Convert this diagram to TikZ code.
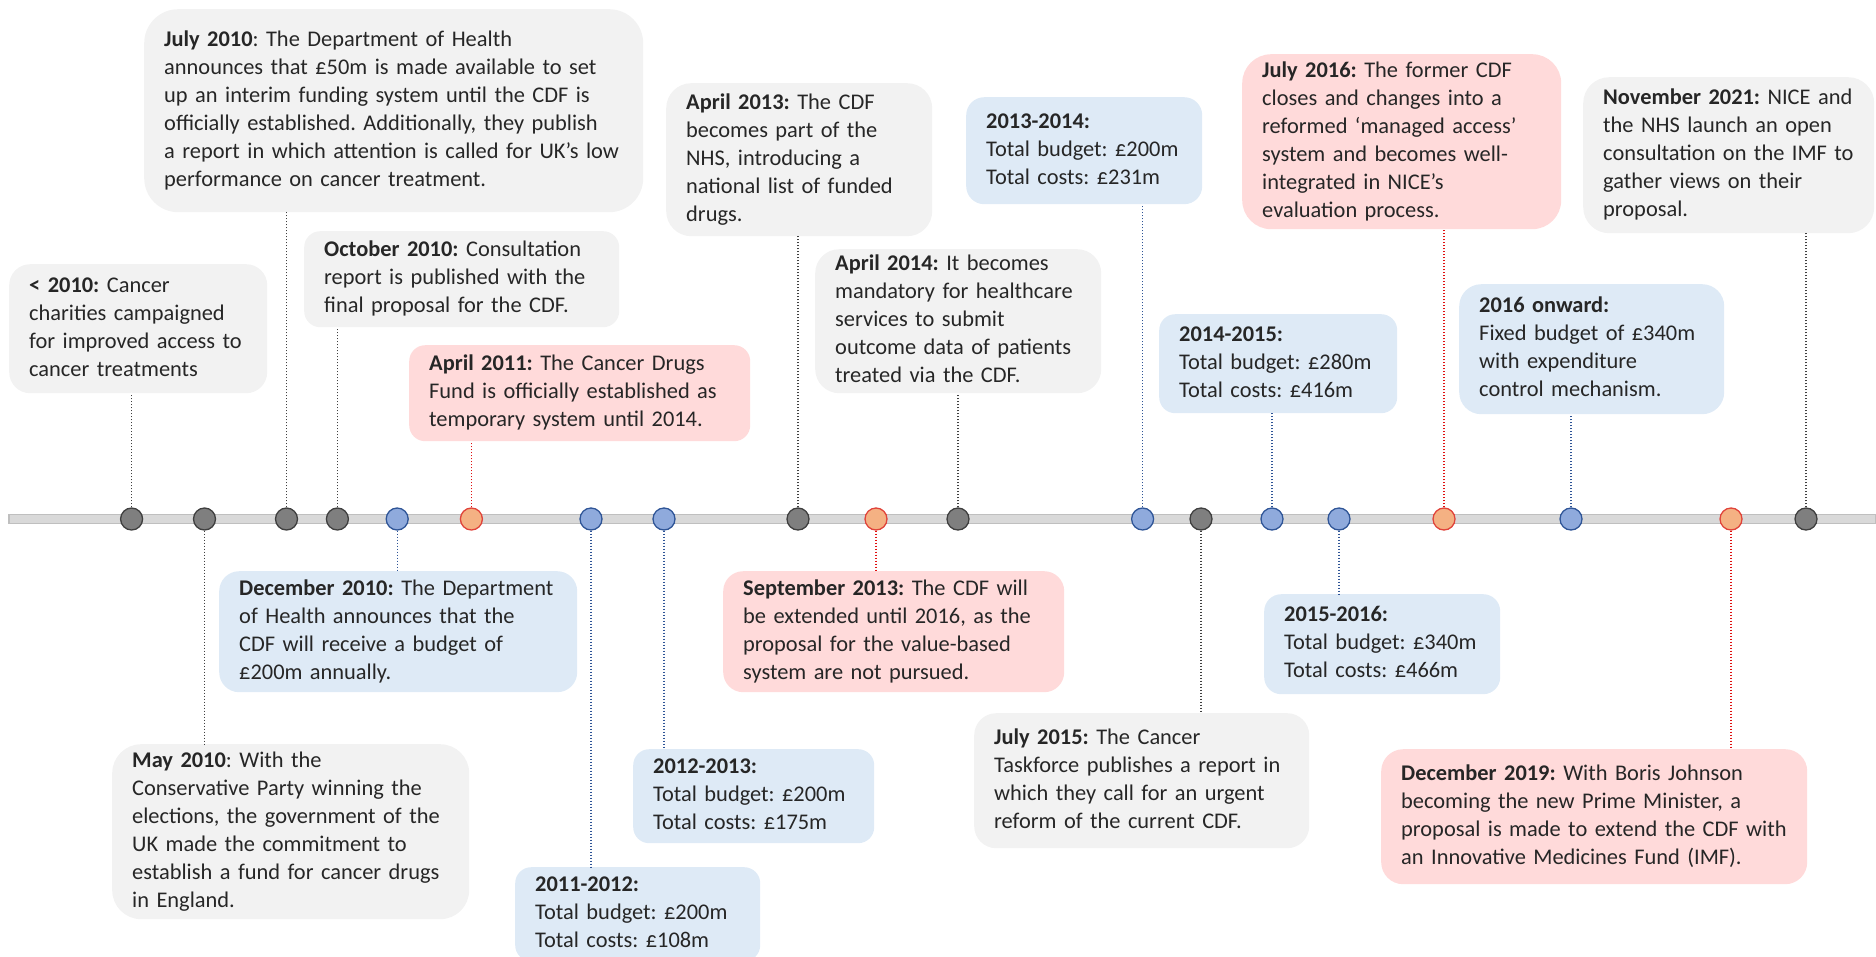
\documentclass[tikz,border=0pt]{standalone}
\usepackage{fontspec}
\setmainfont{Carlito}
\usepackage{xcolor}
\usepackage{tikz}
\frenchspacing

\definecolor{boxgrey}{HTML}{F2F2F2}
\definecolor{boxblue}{HTML}{DEEAF6}
\definecolor{boxred}{HTML}{FFDADA}
\definecolor{ptgrey}{HTML}{7F7F7F}
\definecolor{ptgreyedge}{HTML}{3F3F3F}
\definecolor{ptblue}{HTML}{8FAADC}
\definecolor{ptblueedge}{HTML}{2F5597}
\definecolor{ptred}{HTML}{F4B183}
\definecolor{ptrededge}{HTML}{E0433A}
\definecolor{lkgrey}{HTML}{404040}
\definecolor{lkblue}{HTML}{2F5597}
\definecolor{lkred}{HTML}{E01010}
\definecolor{barfill}{HTML}{D9D9D9}
\definecolor{baredge}{HTML}{BFBFBF}

\begin{document}
\begin{tikzpicture}[x=1pt,y=-1pt,font=\fontsize{22.4}{28}\selectfont,
            text=black!85]
        \tikzstyle{event}=[rectangle,anchor=north west,align=left,inner xsep=10pt,inner ysep=0pt,
            execute at begin node={\leftskip=10pt\strut},execute at end node=\strut]
        \tikzstyle{grey event}=[event,fill=boxgrey]
        \tikzstyle{blue event}=[event,fill=boxblue]
        \tikzstyle{red event}=[event,fill=boxred]
        \tikzstyle{point}=[circle,minimum size=22pt,inner sep=0pt,line width=1.3pt]
        \tikzstyle{grey point}=[point,fill=ptgrey,draw=ptgreyedge]
        \tikzstyle{blue point}=[point,fill=ptblue,draw=ptblueedge]
        \tikzstyle{red point}=[point,fill=ptred,draw=ptrededge]
        \tikzstyle{link}=[line width=1.1pt,dash pattern=on 1.5pt off 1.5pt]
        \tikzstyle{grey link}=[link,draw=lkgrey]
        \tikzstyle{blue link}=[link,draw=lkblue]
        \tikzstyle{red link}=[link,draw=lkred]

        \useasboundingbox (0,0) rectangle (1876,956);

        % time axis
        \draw[fill=barfill,draw=baredge,line width=1.5pt] (9,514.5) rectangle (1876,523.5);

        % points on the axis
        \node[grey point] (pre10p) at (131.6,519) {};
        \node[grey point] (may10p) at (204.5,519) {};
        \node[grey point] (jul10p) at (286.5,519) {};
        \node[grey point] (oct10p) at (337.4,519) {};
        \node[blue point] (dec10p) at (397.2,519) {};
        \node[red point] (apr11p) at (471.4,519) {};
        \node[blue point] (y1112p) at (591,519) {};
        \node[blue point] (y1213p) at (664,519) {};
        \node[grey point] (apr13p) at (798,519) {};
        \node[red point] (sep13p) at (876,519) {};
        \node[grey point] (apr14p) at (958,519) {};
        \node[blue point] (y1314p) at (1142.6,519) {};
        \node[grey point] (jul15p) at (1201,519) {};
        \node[blue point] (y1415p) at (1272,519) {};
        \node[blue point] (y1516p) at (1339,519) {};
        \node[red point] (jul16p) at (1444,519) {};
        \node[blue point] (y16onp) at (1571,519) {};
        \node[red point] (dec19p) at (1731,519) {};
        \node[grey point] (nov21p) at (1806,519) {};

        % events above the axis
        \node[grey event,text width=238pt,minimum height=129pt,rounded corners=21pt] (pre10) at (9,264)
            {\textbf{< 2010:} Cancer\\ charities campaigned\\ for improved access to\\ cancer treatments};
        \node[grey event,text width=479pt,minimum height=203pt,rounded corners=34pt] (jul10) at (144,9)
            {\textbf{July 2010}: The Department of Health\\ announces that £50m is made available to set\\ up an interim funding system until the CDF is\\ officially established. Additionally, they publish\\ a report in which attention is called for UK’s low\\ performance on cancer treatment.};
        \node[grey event,text width=295pt,minimum height=96pt,rounded corners=16pt] (oct10) at (304,231)
            {\textbf{October 2010:} Consultation\\ report is published with the\\ final proposal for the CDF.};
        \node[red event,text width=321pt,minimum height=96pt,rounded corners=16pt] (apr11) at (409,345)
            {\textbf{April 2011:} The Cancer Drugs\\ Fund is officially established as\\ temporary system until 2014.};
        \node[grey event,text width=246pt,minimum height=153pt,rounded corners=25pt] (apr13) at (666,83)
            {\textbf{April 2013:} The CDF\\ becomes part of the\\ NHS, introducing a\\ national list of funded\\ drugs.};
        \node[grey event,text width=266pt,minimum height=144pt,rounded corners=24pt] (apr14) at (815,249)
            {\textbf{April 2014:} It becomes\\ mandatory for healthcare\\ services to submit\\ outcome data of patients\\ treated via the CDF.};
        \node[blue event,text width=216pt,minimum height=107pt,rounded corners=18pt] (y1314) at (966,97)
            {\textbf{2013-2014:}\\ Total budget: £200m\\ Total costs: £231m};
        \node[blue event,text width=218pt,minimum height=99pt,rounded corners=16pt] (y1415) at (1159,314)
            {\textbf{2014-2015:}\\ Total budget: £280m\\ Total costs: £416m};
        \node[red event,text width=299pt,minimum height=175pt,rounded corners=29pt] (jul16) at (1242,54)
            {\textbf{July 2016:} The former CDF\\ closes and changes into a\\ reformed ‘managed access’\\ system and becomes well-\\ integrated in NICE’s\\ evaluation process.};
        \node[blue event,text width=245pt,minimum height=130pt,rounded corners=22pt] (y16on) at (1459,284)
            {\textbf{2016 onward:}\\ Fixed budget of £340m\\ with expenditure\\ control mechanism.};
        \node[grey event,text width=271pt,minimum height=156pt,rounded corners=26pt] (nov21) at (1583,77)
            {\textbf{November 2021:} NICE and\\ the NHS launch an open\\ consultation on the IMF to\\ gather views on their\\ proposal.};

        % events below the axis
        \node[blue event,text width=338pt,minimum height=121pt,rounded corners=20pt] (dec10) at (219,571)
            {\textbf{December 2010:} The Department\\ of Health announces that the\\ CDF will receive a budget of\\ £200m annually.};
        \node[grey event,text width=337pt,minimum height=175pt,rounded corners=29pt] (may10) at (112,744)
            {\textbf{May 2010}: With the\\ Conservative Party winning the\\ elections, the government of the\\ UK made the commitment to\\ establish a fund for cancer drugs\\ in England.};
        \node[blue event,text width=225pt,minimum height=94pt,rounded corners=16pt] (y1112) at (515,867)
            {\textbf{2011-2012:}\\ Total budget: £200m\\ Total costs: £108m};
        \node[blue event,text width=221pt,minimum height=94pt,rounded corners=16pt] (y1213) at (633,749)
            {\textbf{2012-2013:}\\ Total budget: £200m\\ Total costs: £175m};
        \node[red event,text width=321pt,minimum height=121pt,rounded corners=20pt] (sep13) at (723,571)
            {\textbf{September 2013:} The CDF will\\ be extended until 2016, as the\\ proposal for the value-based\\ system are not pursued.};
        \node[grey event,text width=315pt,minimum height=135pt,rounded corners=22pt] (jul15) at (974,713)
            {\textbf{July 2015:} The Cancer\\ Taskforce publishes a report in\\ which they call for an urgent\\ reform of the current CDF.};
        \node[blue event,text width=216pt,minimum height=100pt,rounded corners=17pt] (y1516) at (1264,594)
            {\textbf{2015-2016:}\\ Total budget: £340m\\ Total costs: £466m};
        \node[red event,text width=406pt,minimum height=135pt,rounded corners=22pt] (dec19) at (1381,749)
            {\textbf{December 2019:} With Boris Johnson\\ becoming the new Prime Minister, a\\ proposal is made to extend the CDF with\\ an Innovative Medicines Fund (IMF).};

        % links up
        \draw[grey link] (pre10p.north) -- (pre10p |- pre10.south);
        \draw[grey link] (jul10p.north) -- (jul10p |- jul10.south);
        \draw[grey link] (oct10p.north) -- (oct10p |- oct10.south);
        \draw[red link] (apr11p.north) -- (apr11p |- apr11.south);
        \draw[grey link] (apr13p.north) -- (apr13p |- apr13.south);
        \draw[grey link] (apr14p.north) -- (apr14p |- apr14.south);
        \draw[blue link] (y1314p.north) -- (y1314p |- y1314.south);
        \draw[blue link] (y1415p.north) -- (y1415p |- y1415.south);
        \draw[red link] (jul16p.north) -- (jul16p |- jul16.south);
        \draw[blue link] (y16onp.north) -- (y16onp |- y16on.south);
        \draw[grey link] (nov21p.north) -- (nov21p |- nov21.south);

        % links down
        \draw[grey link] (may10p.south) -- (may10p |- may10.north);
        \draw[blue link] (dec10p.south) -- (dec10p |- dec10.north);
        \draw[blue link] (y1112p.south) -- (y1112p |- y1112.north);
        \draw[blue link] (y1213p.south) -- (y1213p |- y1213.north);
        \draw[red link] (sep13p.south) -- (sep13p |- sep13.north);
        \draw[grey link] (jul15p.south) -- (jul15p |- jul15.north);
        \draw[blue link] (y1516p.south) -- (y1516p |- y1516.north);
        \draw[red link] (dec19p.south) -- (dec19p |- dec19.north);
\end{tikzpicture}
\end{document}
